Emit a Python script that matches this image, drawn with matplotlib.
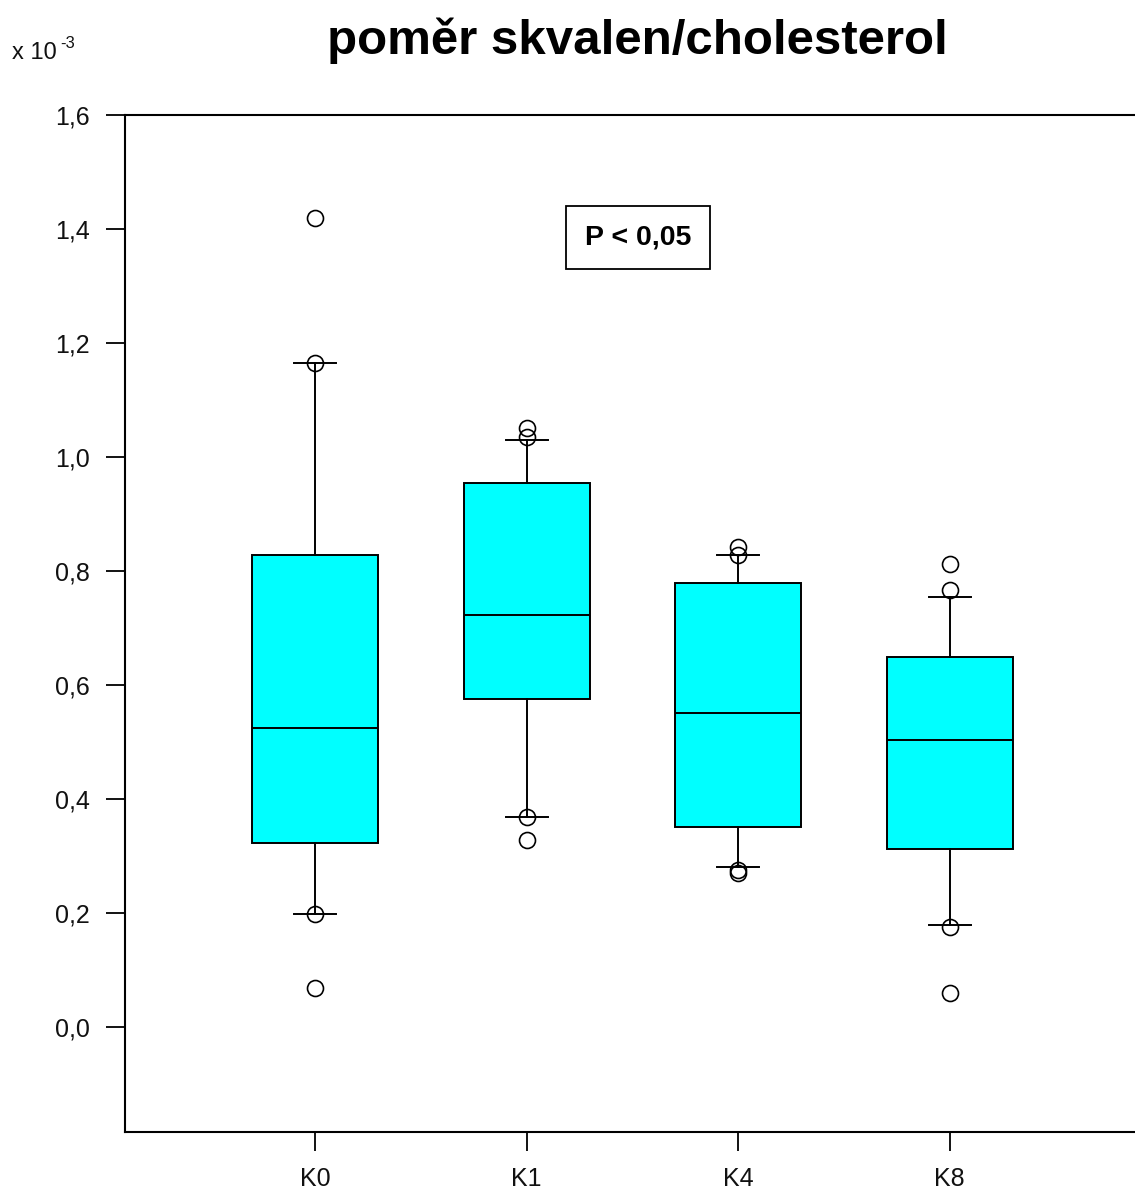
import matplotlib
matplotlib.use("Agg")
from matplotlib import pyplot as plt

# skupiny a hodnoty (x 10^-3)
skupiny = ["K0", "K1", "K4", "K8"]
q1 = [0.323, 0.575, 0.351, 0.312]
median = [0.525, 0.723, 0.551, 0.504]
q3 = [0.828, 0.954, 0.779, 0.649]
whis_dolni = [0.198, 0.368, 0.281, 0.179]
whis_horni = [1.165, 1.030, 0.828, 0.754]
odlehle = [
    [1.419, 1.165, 0.198, 0.068],
    [1.051, 1.035, 0.368, 0.328],
    [0.842, 0.828, 0.275, 0.270],
    [0.812, 0.767, 0.175, 0.060],
]

plt.rcParams['font.family'] = ['Liberation Sans', 'DejaVu Sans']

fig = plt.figure(figsize=(11.35, 11.94), dpi=100)
ax = fig.add_axes([0.1101, 0.0519, 0.8943, 0.8518])

stats = []
for i in range(len(skupiny)):
    stats.append({
        "label": skupiny[i],
        "q1": q1[i], "med": median[i], "q3": q3[i],
        "whislo": whis_dolni[i], "whishi": whis_horni[i],
        "fliers": odlehle[i],
    })

ax.bxp(stats, positions=[1, 2, 3, 4], widths=0.595, patch_artist=True,
       boxprops=dict(facecolor="#00ffff", edgecolor="black", linewidth=1.4),
       medianprops=dict(color="black", linewidth=1.4),
       whiskerprops=dict(color="black", linewidth=1.4),
       capprops=dict(color="black", linewidth=1.4),
       capwidths=0.2,
       flierprops=dict(marker="o", markersize=11.5, markerfacecolor="none",
                       markeredgecolor="black", markeredgewidth=1.2))

ax.set_xlim(0.1, 4.9)
ax.set_ylim(-0.184, 1.6)
ax.set_yticks([0.0, 0.2, 0.4, 0.6, 0.8, 1.0, 1.2, 1.4, 1.6])
ax.set_yticklabels(["0,0", "0,2", "0,4", "0,6", "0,8", "1,0", "1,2", "1,4", "1,6"])
ax.set_xticks([1, 2, 3, 4])
ax.set_xticklabels(skupiny)
ax.tick_params(axis="both", direction="out", length=14, width=1.3,
               labelsize=18, labelcolor="#111111", pad=11)

for s in ["left", "bottom", "top", "right"]:
    ax.spines[s].set_linewidth(1.5)

# rámeček s hladinou významnosti
ax.text(2.526, 1.385, "P < 0,05", ha="center", va="center", fontsize=20.5,
        fontweight="bold",
        bbox=dict(boxstyle="square,pad=0.65", facecolor="white",
                  edgecolor="black", linewidth=1.3))

fig.text(0.5617, 0.955, "poměr skvalen/cholesterol", ha="center", va="baseline",
         fontsize=35.5, fontweight="bold")
fig.text(0.011, 0.9555, "x 10", ha="left", va="center", fontsize=17,
         color="#111111")
fig.text(0.0535, 0.9635, "-3", ha="left", va="center", fontsize=12,
         color="#111111")

fig.savefig("out.png", dpi=100)
